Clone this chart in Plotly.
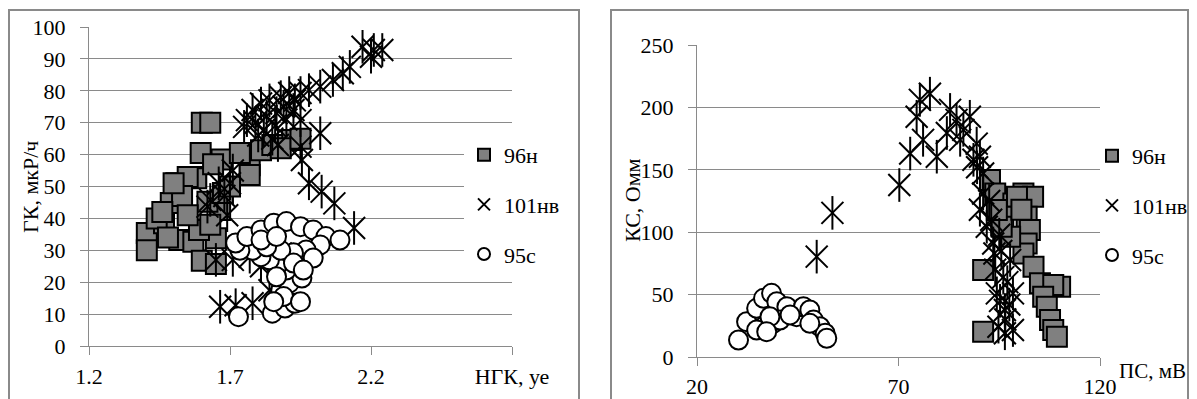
import plotly.graph_objects as go

# left chart: НГК vs ГК
l_96n_x = [1.60, 1.63, 1.596, 1.67, 1.77, 1.81, 1.92, 1.58, 1.51, 1.405, 1.405, 1.466, 1.44, 1.51, 1.49,
           1.58, 1.52, 1.57, 1.60, 1.65, 1.65, 1.59, 1.665, 1.62, 1.675, 1.77, 1.85, 1.88, 1.95, 1.735,
           1.55, 1.53, 1.46, 1.55, 1.63, 1.70, 1.64, 1.48, 1.50]
l_96n_y = [70, 70, 60.5, 58.5, 56.7, 61.4, 64.6, 53, 51, 35.4, 30, 38.5, 40, 49.5, 44.8,
           52.6, 33.2, 32.7, 26.7, 25.7, 33.8, 36.4, 42.6, 45.2, 48, 53.6, 63, 62, 65, 60.5,
           53, 47, 42, 41, 38, 50, 57, 34, 51]

l_101nv_x = [2.17, 2.21, 2.24, 2.20, 2.125, 2.10, 2.065, 2.02, 1.98, 1.95, 1.91, 1.88, 1.84, 1.81, 1.78,
             1.76, 1.75, 1.82, 1.865, 1.925, 1.95, 2.02, 1.95, 1.955, 1.98, 2.025, 2.07, 2.14, 1.71, 1.70,
             1.66, 1.63, 1.62, 1.65, 1.71, 1.81, 1.84, 1.665, 1.72, 1.78, 1.79, 1.83, 1.86, 1.89, 1.80,
             1.85, 1.90, 1.93, 1.87, 1.68, 1.69, 1.77, 1.88]
l_101nv_y = [93.8, 92.8, 92.8, 90.7, 87.5, 85.5, 83.4, 81.3, 80.2, 79.3, 79.3, 78, 77, 76, 74,
             70.8, 68.7, 67.7, 73, 74, 70.8, 66.7, 62.5, 58.3, 51, 48.4, 44.7, 37, 55, 51,
             51, 45.8, 43.7, 27, 27, 25, 17.5, 12.3, 12.8, 13.4, 70, 72, 69, 75, 66,
             65, 71, 77, 63, 47, 41, 28, 29]

l_95s_x = [1.73, 1.85, 1.895, 1.93, 1.88, 1.91, 1.955, 1.90, 1.865, 1.84, 1.81, 1.78, 1.735, 1.72, 1.76,
           1.81, 1.855, 1.90, 1.95, 1.995, 2.04, 2.09, 2.02, 1.97, 1.925, 1.88, 1.83, 1.81, 1.865, 1.995,
           1.925, 1.96, 1.865, 1.89, 1.95, 1.855]
l_95s_y = [9.2, 10.3, 11.9, 13.4, 17.5, 19.7, 21.3, 23.8, 24.9, 27, 28, 30, 30, 32.3, 34.3,
           36.4, 38.5, 39, 37.4, 36.4, 34.3, 33.2, 31.7, 30.1, 29.2, 30, 31.1, 33.2, 34.3, 27.6,
           26, 23.8, 21.7, 15.5, 13.9, 13.9]

# right chart: ПС vs КС
r_96n_x = [91, 91, 92.7, 94, 98.5, 101, 103.4, 99.4, 101.8, 102.6, 101.8, 101, 103.5, 105.1, 110.1,
           108.4, 105.9, 106.8, 107.6, 108.4, 109.3, 96, 97.7, 95.6, 94.4, 100.5]
r_96n_y = [20.3, 69.7, 141.8, 131, 123, 131, 128.5, 128.5, 112.4, 101.8, 91, 83, 72.4, 59, 56.3,
           57.7, 48.3, 40.3, 29.6, 21.6, 16.3, 112.4, 96.4, 104.4, 117.8, 118]

r_101nv_x = [49.7, 53.6, 70.2, 72.9, 77.8, 75.3, 74.5, 76.1, 79.5, 82.8, 84.4, 82, 87.7, 86.1, 85.3,
             89.4, 90.2, 91, 88.6, 90.2, 93.5, 96, 96.4, 96.4, 91, 91.9, 97.7, 98.4, 94.4, 94.8,
             98.4, 89.5, 92.5, 93, 95, 95.5, 97, 96.5, 94, 97.5, 95.2, 93.8]
r_101nv_y = [80.4, 115.5, 137.8, 163, 211, 206, 192.5, 174, 160.5, 198, 190, 179.5, 192.5, 182, 174,
             171, 160.5, 147, 158, 118, 91, 64, 37.7, 19, 131, 104.4, 77.7, 51, 51, 24.3,
             21.6, 152, 125, 110, 98, 85, 60, 30, 70, 42, 45, 83]

r_95s_x = [30.3, 32.3, 34.8, 36.5, 38.5, 39.8, 42.3, 44.7, 36.5, 34.8, 38.9, 40.6, 46.4, 48, 48.9,
           50.5, 51.8, 52.2, 48, 38.1, 43.1, 37.3]
r_95s_y = [13.6, 28.3, 39, 47, 51, 44.3, 40.3, 32.3, 24.3, 21.6, 27, 29.6, 40.3, 37.7, 29.6,
           24.3, 19, 15, 27, 32.3, 33.7, 20.3]

FONT = "Liberation Serif"
FS = 22
GRID = "#8a8a8a"

# page has an 8px body margin, so the figure is 8px smaller and placed from window pixels
W, H = 1189, 391


def fx(px):
    return (px - 8) / W


def fy(py):
    return (399 - py) / H


fig = go.Figure()


def add_series(xs, ys, xa, ya, leg):
    fig.add_trace(go.Scatter(x=xs[0], y=ys[0], xaxis=xa, yaxis=ya, mode="markers", name="96н",
                             legend=leg, legendgroup="a",
                             marker=dict(symbol="square", size=20, color="#808080",
                                         line=dict(width=2, color="black"))))
    fig.add_trace(go.Scatter(x=xs[1], y=ys[1], xaxis=xa, yaxis=ya, mode="markers", name="101нв",
                             legend=leg, legendgroup="b",
                             marker=dict(symbol="x-thin-open", size=22, color="black",
                                         line=dict(width=2, color="black"))))
    # vertical stroke makes the 6-armed asterisk
    fig.add_trace(go.Scatter(x=xs[1], y=ys[1], xaxis=xa, yaxis=ya, mode="markers", showlegend=False,
                             legend=leg, legendgroup="b", hoverinfo="skip",
                             marker=dict(symbol="line-ns-open", size=24, color="black",
                                         line=dict(width=2, color="black"))))
    fig.add_trace(go.Scatter(x=xs[2], y=ys[2], xaxis=xa, yaxis=ya, mode="markers", name="95с",
                             legend=leg, legendgroup="c",
                             marker=dict(symbol="circle", size=19, color="white",
                                         line=dict(width=2, color="black"))))


add_series([l_96n_x, l_101nv_x, l_95s_x], [l_96n_y, l_101nv_y, l_95s_y], "x", "y", "legend")
add_series([r_96n_x, r_101nv_x, r_95s_x], [r_96n_y, r_101nv_y, r_95s_y], "x2", "y2", "legend2")

ax = dict(showline=True, linecolor=GRID, linewidth=1, ticks="outside", tickcolor=GRID, ticklen=8,
          tickfont=dict(family=FONT, size=FS, color="black"), zeroline=False, automargin=False)

fig.update_layout(
    width=W, height=H, margin=dict(l=0, r=0, t=0, b=0, pad=0, autoexpand=False),
    paper_bgcolor="white", plot_bgcolor="white",
    font=dict(family=FONT, size=FS, color="black"),
    xaxis=dict(ax, anchor="y", domain=[fx(89), fx(512)], range=[1.2, 2.7], showgrid=False,
               tickvals=[1.2, 1.7, 2.2, 2.7], ticktext=["1.2", "1.7", "2.2", "НГК, уе"],
               ticklabelstandoff=3),
    yaxis=dict(ax, anchor="x", domain=[fy(346), fy(27)], range=[0, 100], dtick=10, showgrid=True,
               gridcolor=GRID, ticklabelstandoff=10),
    xaxis2=dict(ax, anchor="y2", domain=[fx(697), fx(1100)], range=[20, 120], showgrid=False,
                tickvals=[20, 70, 120], ticklabelstandoff=2),
    yaxis2=dict(ax, anchor="x2", domain=[fy(357), fy(45)], range=[0, 250], dtick=50, showgrid=True,
                gridcolor=GRID, ticklabelstandoff=10),
    legend=dict(x=fx(464), y=fy(134), xanchor="left", yanchor="top",
                bgcolor="white", itemsizing="constant", tracegroupgap=18,
                font=dict(family=FONT, size=FS)),
    legend2=dict(x=fx(1092), y=fy(135), xanchor="left", yanchor="top",
                 bgcolor="rgba(0,0,0,0)", itemsizing="constant", tracegroupgap=18,
                 font=dict(family=FONT, size=FS)),
    shapes=[
        dict(type="rect", xref="paper", yref="paper", x0=fx(9), x1=fx(579),
             y0=-0.02, y1=fy(10), line=dict(color=GRID, width=2)),
        dict(type="rect", xref="paper", yref="paper", x0=fx(611), x1=fx(1188),
             y0=-0.02, y1=fy(10), line=dict(color=GRID, width=2)),
    ],
    annotations=[
        dict(text="ГК, мкР/ч", xref="paper", yref="paper", x=fx(30), y=fy(187),
             xanchor="center", yanchor="middle", textangle=-90, showarrow=False,
             font=dict(family=FONT, size=FS)),
        dict(text="КС, Омм", xref="paper", yref="paper", x=fx(632), y=fy(200),
             xanchor="center", yanchor="middle", textangle=-90, showarrow=False,
             font=dict(family=FONT, size=FS)),
        dict(text="ПС, мВ", xref="paper", yref="paper", x=fx(1152), y=fy(371),
             xanchor="center", yanchor="middle", showarrow=False, font=dict(family=FONT, size=21)),
    ],
)

fig.write_html("out.html")
